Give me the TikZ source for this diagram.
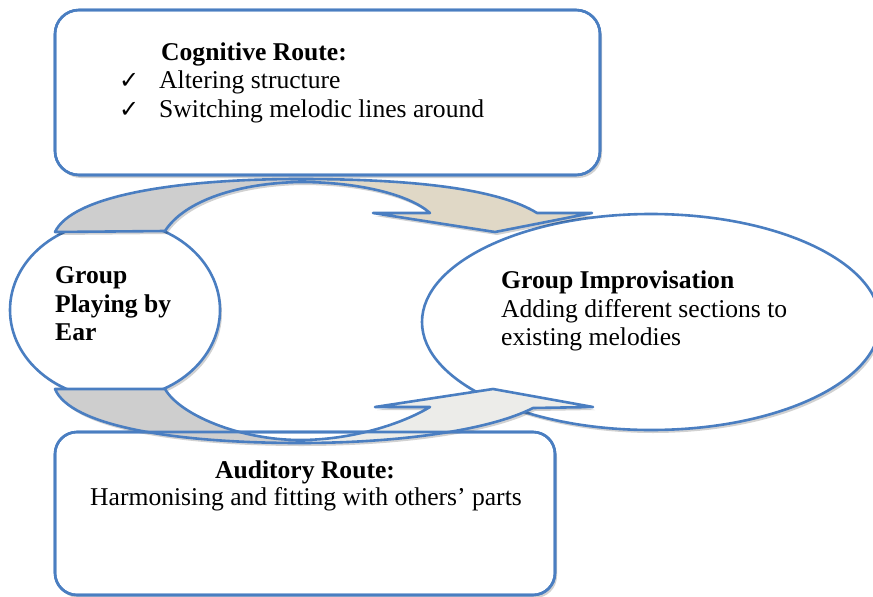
\documentclass[tikz,border=0pt]{standalone}
\usepackage{fontspec}
\setmainfont{Liberation Serif}
\newfontfamily\symfont{DejaVu Sans}
\usetikzlibrary{shapes.geometric,shadows}
\definecolor{edgeblue}{RGB}{74,126,193}
\definecolor{backgray}{RGB}{206,206,206}
\definecolor{beige}{RGB}{224,216,198}
\definecolor{palegray}{RGB}{236,236,233}
\tikzset{
  blueline/.style={draw=edgeblue, line width=2.6pt, line join=round},
  shade3/.style={drop shadow={shadow xshift=2pt, shadow yshift=-3pt, fill=black, opacity=0.18}},
  routebox/.style={rectangle, rounded corners=24pt, fill=white, blueline, shade3, outer sep=0pt, inner sep=0pt},
  bubble/.style={ellipse, fill=white, blueline, shade3, inner sep=0pt, outer sep=0pt},
  txt/.style={font=\fontsize{25.6}{28.5}\selectfont, anchor=base west, inner sep=0pt},
  btxt/.style={font=\fontsize{25.6}{28.5}\selectfont\bfseries, anchor=base west, inner sep=0pt},
  ticktxt/.style={font=\fontsize{24}{28}\symfont, anchor=base west, inner sep=0pt},
}
\def\toparrow{(55,232) .. controls (72,196) and (175,179) .. (300,179) .. controls (420,179) and (500,190) .. (537,213) -- (592,213) -- (495,232) -- (373,213) -- (430,213) .. controls (410,195) and (360,182) .. (300,182) .. controls (240,183) and (185,200) .. (165,231) -- cycle}
\def\botarrow{(55,389) .. controls (70,425) and (170,443) .. (300,443) .. controls (400,443) and (490,430) .. (533,408) -- (593,407) -- (493,389) -- (375,407) -- (430,407) .. controls (400,425) and (350,440) .. (300,440) .. controls (240,440) and (180,415) .. (165,389) -- cycle}
\begin{document}
\begin{tikzpicture}[x=1pt,y=-1pt]
\useasboundingbox (0,0) rectangle (873,597);
% ellipses and boxes
\node[bubble, minimum width=458pt, minimum height=216pt] (impro) at (651,322) {};
\node[bubble, minimum width=210pt, minimum height=178pt] (ear) at (115,310) {};
\node[routebox, minimum width=545pt, minimum height=165pt] (cog) at (327.5,92.5) {};
\node[routebox, rounded corners=22pt, minimum width=500pt, minimum height=163pt] (aud) at (305,513.5) {};
% top curved arrow
\fill[backgray, shade3] \toparrow;
\begin{scope}
  \clip (300,0) rectangle (873,597);
  \fill[beige] \toparrow;
\end{scope}
\draw[blueline] \toparrow;
% bottom curved arrow
\fill[backgray, shade3] \botarrow;
\begin{scope}
  \clip (300,0) rectangle (873,597);
  \fill[palegray] \botarrow;
\end{scope}
\draw[blueline] \botarrow;
% box outlines over the arrows
\draw[blueline, rounded corners=24pt] (cog.north west) rectangle (cog.south east);
\draw[blueline, rounded corners=22pt] (aud.north west) rectangle (aud.south east);
% texts
\node[btxt] (cogt) at (161,60) {Cognitive Route:};
\node[ticktxt] (ck1) at (119,88) {✓};
\node[txt] (cog1) at (159,88) {Altering structure};
\node[ticktxt] (ck2) at (119,117) {✓};
\node[txt] (cog2) at (159,117) {Switching melodic lines around};
\node[btxt] (impt) at (501,288) {Group Improvisation};
\node[txt] (imp1) at (501,317) {Adding different sections to};
\node[txt] (imp2) at (501,345) {existing melodies};
\node[btxt] (ear1) at (55,283) {Group};
\node[btxt] (ear2) at (55,312) {Playing by};
\node[btxt] (ear3) at (55,340) {Ear};
\node[btxt, anchor=base] (audt) at (305,478) {Auditory Route:};
\node[txt, anchor=base] (aud1) at (306,505) {Harmonising and fitting with others’ parts};
\end{tikzpicture}
\end{document}
